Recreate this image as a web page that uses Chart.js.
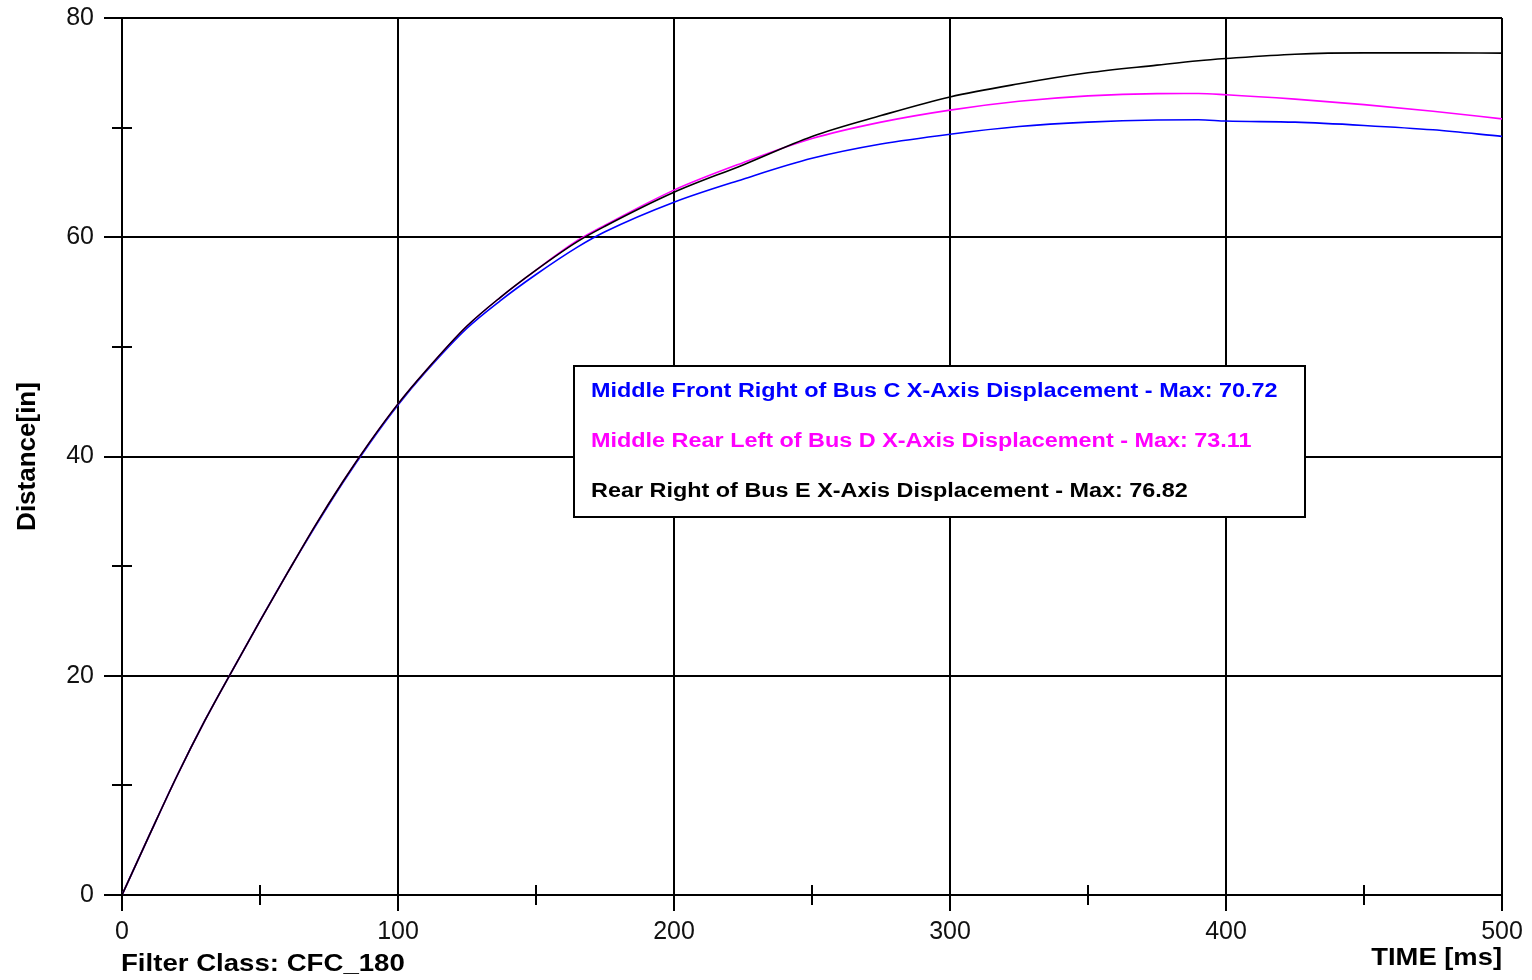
<!DOCTYPE html>
<html>
<head>
<meta charset="utf-8">
<script src="https://cdn.jsdelivr.net/npm/chart.js@4.4.1/dist/chart.umd.min.js"></script>
<style>
  html, body { margin: 0; padding: 0; background: #fff; }
  #wrap { width: 1532px; height: 980px; }
</style>
</head>
<body>
<div id="wrap"><canvas id="chart" width="1532" height="980"></canvas></div>
<script>
const timeMs = [0, 10, 20, 30, 40, 50, 60, 70, 80, 90, 100, 110, 125, 137, 150, 165, 175, 200, 225, 250, 275, 300, 325, 350, 375, 390, 400, 425, 450, 475, 500];

const busC = [0, 5.5, 10.9, 15.9, 20.5, 25.0, 29.4, 33.6, 37.6, 41.3, 44.7, 47.7, 51.7, 54.2, 56.6, 59.1, 60.5, 63.2, 65.3, 67.2, 68.5, 69.4, 70.1, 70.5, 70.7, 70.72, 70.6, 70.5, 70.2, 69.8, 69.2];
const busD = [0, 5.5, 10.9, 15.9, 20.5, 25.0, 29.4, 33.7, 37.7, 41.4, 44.8, 47.8, 51.9, 54.5, 57.0, 59.7, 61.1, 64.3, 66.8, 69.0, 70.5, 71.6, 72.4, 72.9, 73.1, 73.11, 73.0, 72.6, 72.1, 71.5, 70.8];
const busE = [0, 5.5, 10.9, 15.9, 20.5, 25.0, 29.4, 33.7, 37.7, 41.4, 44.8, 47.8, 51.9, 54.5, 57.0, 59.6, 61.0, 64.1, 66.6, 69.2, 71.1, 72.8, 74.0, 75.0, 75.7, 76.1, 76.3, 76.7, 76.82, 76.82, 76.8];

const seriesLabels = [
  'Middle Front Right of Bus C X-Axis Displacement - Max: 70.72',
  'Middle Rear Left of Bus D X-Axis Displacement - Max: 73.11',
  'Rear Right of Bus E X-Axis Displacement - Max: 76.82'
];
const seriesColors = ['#0000ff', '#ff00ff', '#000000'];

const xTicks = [0, 100, 200, 300, 400, 500];
const yTicks = [0, 20, 40, 60, 80];
const xMinor = [50, 150, 250, 350, 450];
const yMinor = [10, 30, 50, 70];

const FONT = '"Liberation Sans", Arial, sans-serif';

const toPoints = (vals) => vals.map((v, i) => ({ x: timeMs[i], y: v }));

// text drawn a bit wider than the canvas font, like the original export
function wideText(ctx, text, x, y, sx, align) {
  ctx.save();
  const w = ctx.measureText(text).width * sx;
  const left = align === 'right' ? x - w : x;
  ctx.translate(left, y);
  ctx.scale(sx, 1);
  ctx.textAlign = 'left';
  ctx.fillText(text, 0, 0);
  ctx.restore();
}

// minor ticks crossing the axes, legend box, footnotes
const extras = {
  id: 'extras',
  afterDraw(chart) {
    const { ctx, scales: { x, y } } = chart;
    ctx.save();
    ctx.strokeStyle = '#000';
    ctx.lineWidth = 2;
    xMinor.forEach((v) => {
      const px = Math.round(x.getPixelForValue(v));
      ctx.beginPath(); ctx.moveTo(px, y.bottom - 10); ctx.lineTo(px, y.bottom + 10); ctx.stroke();
    });
    yMinor.forEach((v) => {
      const py = Math.round(y.getPixelForValue(v));
      ctx.beginPath(); ctx.moveTo(x.left - 10, py); ctx.lineTo(x.left + 10, py); ctx.stroke();
    });

    // legend box
    const bx = 574, by = 366, bw = 731, bh = 151;
    ctx.fillStyle = '#fff';
    ctx.fillRect(bx, by, bw, bh);
    ctx.strokeRect(bx, by, bw, bh);
    ctx.font = 'bold 20px ' + FONT;
    ctx.textBaseline = 'middle';
    chart.data.datasets.forEach((ds, i) => {
      ctx.fillStyle = ds.borderColor;
      wideText(ctx, ds.label, bx + 17, by + 25 + i * 50, 1.17, 'left');
    });

    ctx.fillStyle = '#000';
    ctx.font = 'bold 24px ' + FONT;
    wideText(ctx, 'Filter Class: CFC_180', 121, 964, 1.15, 'left');
    wideText(ctx, 'TIME [ms]', 1502, 958, 1.14, 'right');
    ctx.restore();
  }
};

new Chart(document.getElementById('chart'), {
  type: 'line',
  data: {
    datasets: [0, 1, 2].map((i) => ({
      label: seriesLabels[i],
      data: toPoints([busC, busD, busE][i]),
      borderColor: seriesColors[i],
      backgroundColor: seriesColors[i],
      borderWidth: 1.6,
      pointRadius: 0,
      cubicInterpolationMode: 'monotone',
      order: 2 - i
    }))
  },
  options: {
    responsive: false,
    animation: false,
    events: [],
    layout: { padding: { left: 0, top: 18, right: 30, bottom: 0 } },
    plugins: { legend: { display: false }, tooltip: { enabled: false } },
    scales: {
      x: {
        type: 'linear',
        min: 0, max: 500,
        afterBuildTicks: (s) => { s.ticks = xTicks.map((v) => ({ value: v })); },
        afterFit: (s) => { s.height = 85; s.paddingRight = 0; s.paddingLeft = 0; },
        grid: { color: '#000', lineWidth: 2, tickLength: 16, tickColor: '#000' },
        border: { color: '#000', width: 2 },
        ticks: { color: '#111', font: { family: FONT, size: 25 }, padding: 6, maxRotation: 0 }
      },
      y: {
        type: 'linear',
        min: 0, max: 80,
        afterBuildTicks: (s) => { s.ticks = yTicks.map((v) => ({ value: v })); },
        afterFit: (s) => { s.width = 122; s.paddingTop = 0; s.paddingBottom = 0; },
        grid: { color: '#000', lineWidth: 2, tickLength: 18, tickColor: '#000' },
        border: { color: '#000', width: 2 },
        ticks: { color: '#111', font: { family: FONT, size: 25 }, padding: 10 },
        title: {
          display: true, text: 'Distance[in]', color: '#000',
          font: { family: FONT, size: 26, weight: 'bold' },
          padding: { top: 12, bottom: 0 }
        }
      }
    }
  },
  plugins: [extras]
});
</script>
</body>
</html>
